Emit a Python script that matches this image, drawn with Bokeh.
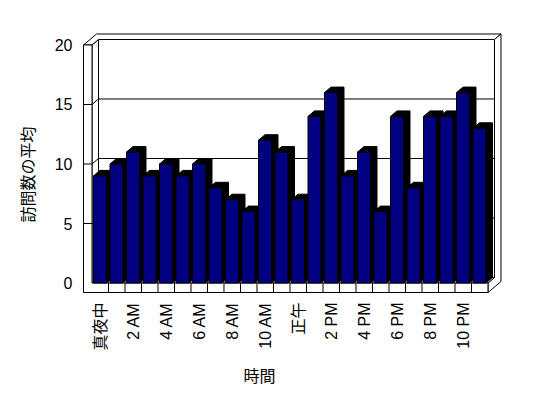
from math import pi
from bokeh.plotting import figure
from bokeh.models import FixedTicker, Range1d, Title
from bokeh.embed import file_html
from bokeh.resources import INLINE

# ---- data ----
hours = list(range(24))
visits = [9, 10, 11, 9, 10, 9, 10, 8, 7, 6, 12, 11, 7, 14, 16, 9, 11, 6, 14, 8, 14, 14, 16, 13]
x_ticks = [0, 2, 4, 6, 8, 10, 12, 14, 16, 18, 20, 22]
x_tick_labels = ["真夜中", "2 AM", "4 AM", "6 AM", "8 AM", "10 AM", "正午",
                 "2 PM", "4 PM", "6 PM", "8 PM", "10 PM"]
y_ticks = [0, 5, 10, 15, 20]
grid_values = [5, 10, 15]
y_max = 20
x_title = "時間"
y_title = "訪問数の平均"

FONT = "'Liberation Sans', 'Noto Sans CJK JP', sans-serif"

# ---- 3D geometry (pixel sizes converted to data units) ----
PX = 16.5   # px per category
PY = 11.9   # px per value unit
DX = 6.5 / PX
DY = 5.5 / PY
XL = -0.5
XR = len(hours) - 0.5
XW = XL - 8.5 / PX
FY = -9.5 / PY
BAR_L = 1.5 / PX - 0.5
BAR_W = 13.0 / PX

p = figure(width=540, height=398,
           x_range=Range1d(-1.197, 24.561), y_range=Range1d(-0.882, 21.218),
           output_backend="svg", toolbar_location=None,
           min_border_left=80, min_border_right=35, min_border_top=30, min_border_bottom=105)
p.outline_line_color = None
p.xgrid.visible = False
p.ygrid.visible = False
p.background_fill_color = "white"
p.border_fill_color = "white"

# walls / floor structure
top_poly = ([XW, XL, XL + DX, XR + DX, XR + 2 * DX, XW + 2 * DX],
            [y_max, y_max, y_max + DY, y_max + DY, y_max + 2 * DY, y_max + 2 * DY])
left_inner = ([XL, XL + DX, XL + DX, XL], [y_max, y_max + DY, DY, 0])
back_inner = ([XL + DX, XR + DX, XR + DX, XL + DX], [DY, DY, y_max + DY, y_max + DY])
right_side = ([XR, XR, XR + 2 * DX, XR + 2 * DX, XR + DX, XR + DX],
              [0, FY, FY + 2 * DY, y_max + 2 * DY, y_max + DY, DY])
floor_top = ([XL, XR, XR + DX, XL + DX], [0, 0, DY, DY])
front_L = ([XW, XR, XR, XL, XL, XW], [FY, FY, 0, 0, y_max, y_max])

polys = [back_inner, left_inner, top_poly, right_side, floor_top, front_L]
p.patches(xs=[a for a, b in polys], ys=[b for a, b in polys],
          fill_color="white", line_color="black", line_width=1)

# gridlines on left wall + back wall
gx = [[XW, XL, XL + DX, XR + DX] for v in grid_values]
gy = [[v, v, v + DY, v + DY] for v in grid_values]
p.multi_line(xs=gx, ys=gy, line_color="black", line_width=1)

# floor dividers
dx_ = [[h + 0.5, h + 0.5] for h in hours[:-1]]
dy_ = [[0, FY] for h in hours[:-1]]
p.multi_line(xs=dx_, ys=dy_, line_color="black", line_width=1)

# bar shadows (top + side)
sx, sy = [], []
for h, v in zip(hours, visits):
    L = h + BAR_L
    R = L + BAR_W
    sx.append([L, L + DX, R + DX, R + DX, R, R])
    sy.append([v, v + DY, v + DY, DY, 0, v])
p.patches(xs=sx, ys=sy, fill_color="black", line_color="black", line_width=1)

# bar fronts
p.quad(left=[h + BAR_L for h in hours], right=[h + BAR_L + BAR_W for h in hours],
       bottom=0, top=visits, fill_color="#000080", line_color="black", line_width=1)

# axes
p.xaxis.ticker = FixedTicker(ticks=x_ticks)
p.xaxis.major_label_overrides = {t: l for t, l in zip(x_ticks, x_tick_labels)}
p.xaxis.major_label_orientation = pi / 2
p.yaxis.ticker = FixedTicker(ticks=y_ticks)
for ax in (p.xaxis[0], p.yaxis[0]):
    ax.axis_line_color = None
    ax.major_tick_line_color = None
    ax.minor_tick_line_color = None
    ax.major_tick_in = 0
    ax.major_tick_out = 0
    ax.major_label_text_font = FONT
    ax.major_label_text_font_size = "16px"
    ax.major_label_text_color = "black"
p.xaxis.major_label_standoff = 9
p.yaxis.major_label_standoff = 8

# axis titles
p.add_layout(Title(text=x_title, align="left", offset=163, standoff=24,
                   text_font=FONT, text_font_size="16px", text_font_style="normal",
                   text_color="black"), "below")
p.add_layout(Title(text=y_title, align="left", offset=71, standoff=30,
                   text_font=FONT, text_font_size="16px", text_font_style="normal",
                   text_color="black"), "left")

open("out.html", "w").write(file_html(p, INLINE))
